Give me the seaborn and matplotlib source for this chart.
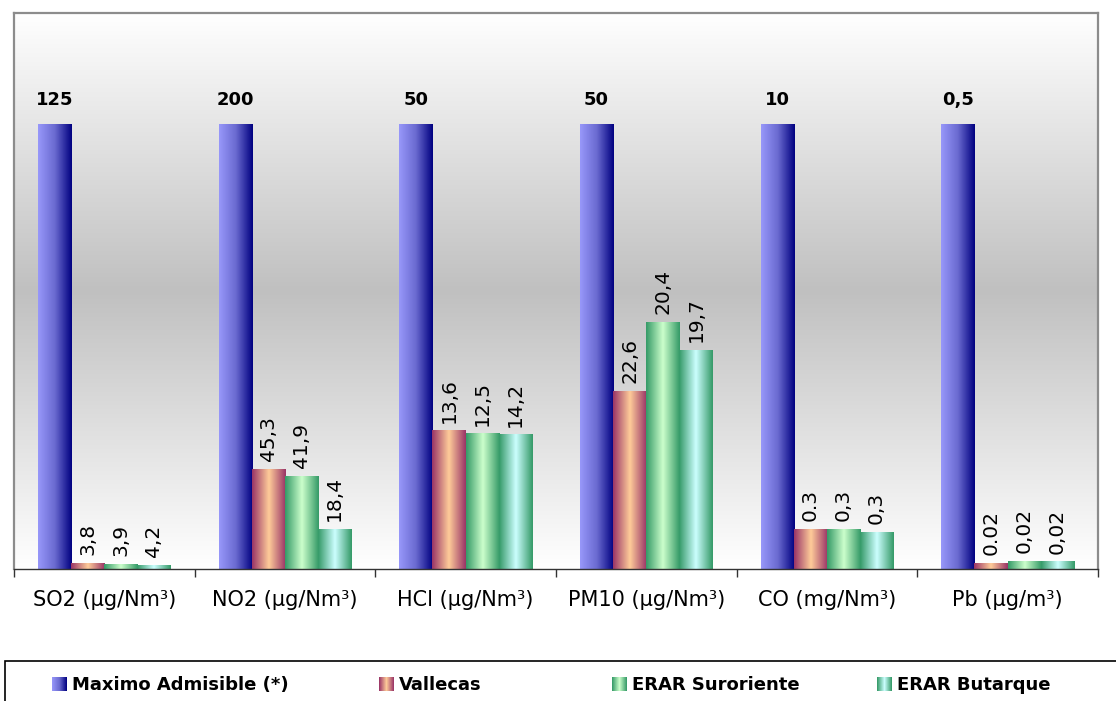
import numpy as np
import pandas as pd
import seaborn as sns
import matplotlib
matplotlib.use('Agg')
import matplotlib.pyplot as plt
from matplotlib.colors import LinearSegmentedColormap
from matplotlib.legend_handler import HandlerBase
from matplotlib.image import BboxImage
from matplotlib.transforms import Bbox, TransformedBbox
from matplotlib.patches import Rectangle

# ==================== datos ====================
categorias = ['SO2 (µg/Nm³)', 'NO2 (µg/Nm³)', 'HCl (µg/Nm³)',
              'PM10 (µg/Nm³)', 'CO (mg/Nm³)', 'Pb (µg/m³)']
series = ['Maximo Admisible (*)', 'Vallecas', 'ERAR Suroriente', 'ERAR Butarque']

# altura de cada barra en % del máximo admisible
maximo_pct = [100, 100, 100, 100, 100, 100]
vallecas_pct = [1.35, 22.5, 31.1, 39.9, 9.0, 1.35]
suroriente_pct = [1.1, 20.9, 30.4, 55.6, 9.0, 1.8]
butarque_pct = [0.9, 9.0, 30.2, 49.3, 8.3, 1.6]

# etiquetas tal como aparecen
maximo_txt = ['125', '200', '50', '50', '10', '0,5']
vallecas_txt = ['3,8', '45,3', '13,6', '22,6', '0.3', '0.02']
suroriente_txt = ['3,9', '41,9', '12,5', '20,4', '0,3', '0,02']
butarque_txt = ['4,2', '18,4', '14,2', '19,7', '0,3', '0,02']

alturas = [maximo_pct, vallecas_pct, suroriente_pct, butarque_pct]
etiquetas = [maximo_txt, vallecas_txt, suroriente_txt, butarque_txt]

df = pd.DataFrame({
    'categoria': categorias * len(series),
    'serie': [s for s in series for _ in categorias],
    'porcentaje': [v for serie in alturas for v in serie],
})

# ==================== estilo ====================
sns.set_theme(style='white')
plt.rcParams['font.family'] = ['DejaVu Sans']
plt.rcParams['text.color'] = 'black'

cmaps = [
    LinearSegmentedColormap.from_list('max', ['#9898FA', '#6A6AD0', '#000080']),
    LinearSegmentedColormap.from_list('vall', ['#993366', '#FFCC99', '#993366']),
    LinearSegmentedColormap.from_list('suro', ['#339966', '#CCFFCC', '#339966']),
    LinearSegmentedColormap.from_list('buta', ['#339966', '#CCFFFF', '#339966']),
]
fondo = LinearSegmentedColormap.from_list('fondo', ['#FFFFFF', '#C0C0C0', '#FFFFFF'])

fig = plt.figure(figsize=(11.16, 7.01), dpi=100)
ax = fig.add_axes([0.0125, 0.1883, 0.9713, 0.7932])

sns.barplot(data=df, x='categoria', y='porcentaje', hue='serie',
            order=categorias, hue_order=series, width=0.733,
            saturation=1, legend=False, ax=ax, zorder=2)

# fondo degradado
ax.imshow(np.linspace(0, 1, 256).reshape(-1, 1), cmap=fondo, aspect='auto',
          extent=[0, 1, 0, 1], transform=ax.transAxes, zorder=0,
          interpolation='bicubic')

grad = np.linspace(0, 1, 256).reshape(1, -1)
for cont, cmap, txts in zip(ax.containers, cmaps, etiquetas):
    for bar, txt in zip(cont, txts):
        x, y = bar.get_x(), bar.get_y()
        w, h = bar.get_width(), bar.get_height()
        bar.set_facecolor('none')
        bar.set_edgecolor('none')
        ax.imshow(grad, cmap=cmap, aspect='auto', extent=[x, x + w, y, y + h],
                  zorder=2, interpolation='bicubic')
        if cmap.name == 'max':
            ax.annotate(txt, (x + w / 2, y + h), xytext=(0, 18),
                        textcoords='offset points', ha='center', va='center',
                        fontsize=13, fontweight='bold', color='black')
        else:
            ax.annotate(txt, (x + w / 2, y + h), xytext=(0, 6),
                        textcoords='offset points', ha='center', va='bottom',
                        rotation=90, fontsize=14.5, color='black')

ax.set_xlim(-0.5, len(categorias) - 0.5)
ax.set_ylim(0, 125.2)
ax.set_yticks([])
ax.set_xlabel('')
ax.set_ylabel('')

ax.set_xticks(range(len(categorias)))
ax.set_xticklabels(categorias, fontsize=15)
ax.set_xticks(np.arange(-0.5, len(categorias)), minor=True)
ax.tick_params(axis='x', which='major', length=0, pad=15, colors='black')
ax.tick_params(axis='x', which='minor', length=6, width=1, color='#333333',
               direction='out', bottom=True)

for lado in ['left', 'top', 'right']:
    ax.spines[lado].set_color('#8C8C8C')
    ax.spines[lado].set_linewidth(1.6)
ax.spines['bottom'].set_color('#333333')
ax.spines['bottom'].set_linewidth(1.0)


# ==================== leyenda ====================
class GradientHandler(HandlerBase):
    def __init__(self, cmap):
        super().__init__()
        self.cmap = cmap

    def create_artists(self, legend, orig_handle, xdescent, ydescent,
                       width, height, fontsize, trans):
        bb = Bbox.from_bounds(-xdescent, -ydescent, width, height)
        img = BboxImage(TransformedBbox(bb, trans), cmap=self.cmap,
                        interpolation='bicubic')
        img.set_data(np.linspace(0, 1, 64).reshape(1, -1))
        return [img]


leyenda_x = [52, 379, 612, 877]
for nombre, cmap, px in zip(series, cmaps, leyenda_x):
    h = Rectangle((0, 0), 1, 1)
    leg = fig.legend([h], [nombre], handler_map={h: GradientHandler(cmap)},
                     loc='center left', bbox_to_anchor=(px / 1116, 1 - 685 / 701),
                     frameon=False, prop={'weight': 'bold', 'size': 13},
                     handlelength=0.8, handleheight=0.8, handletextpad=0.3,
                     borderaxespad=0, borderpad=0)
    for t in leg.get_texts():
        t.set_color('black')

fig.add_artist(Rectangle((5 / 1116, -0.1), 1.2, 0.1 + 1 - 661 / 701,
                         transform=fig.transFigure, fill=False,
                         edgecolor='black', linewidth=1.2, clip_on=False))

fig.savefig('out.png', dpi=100)
